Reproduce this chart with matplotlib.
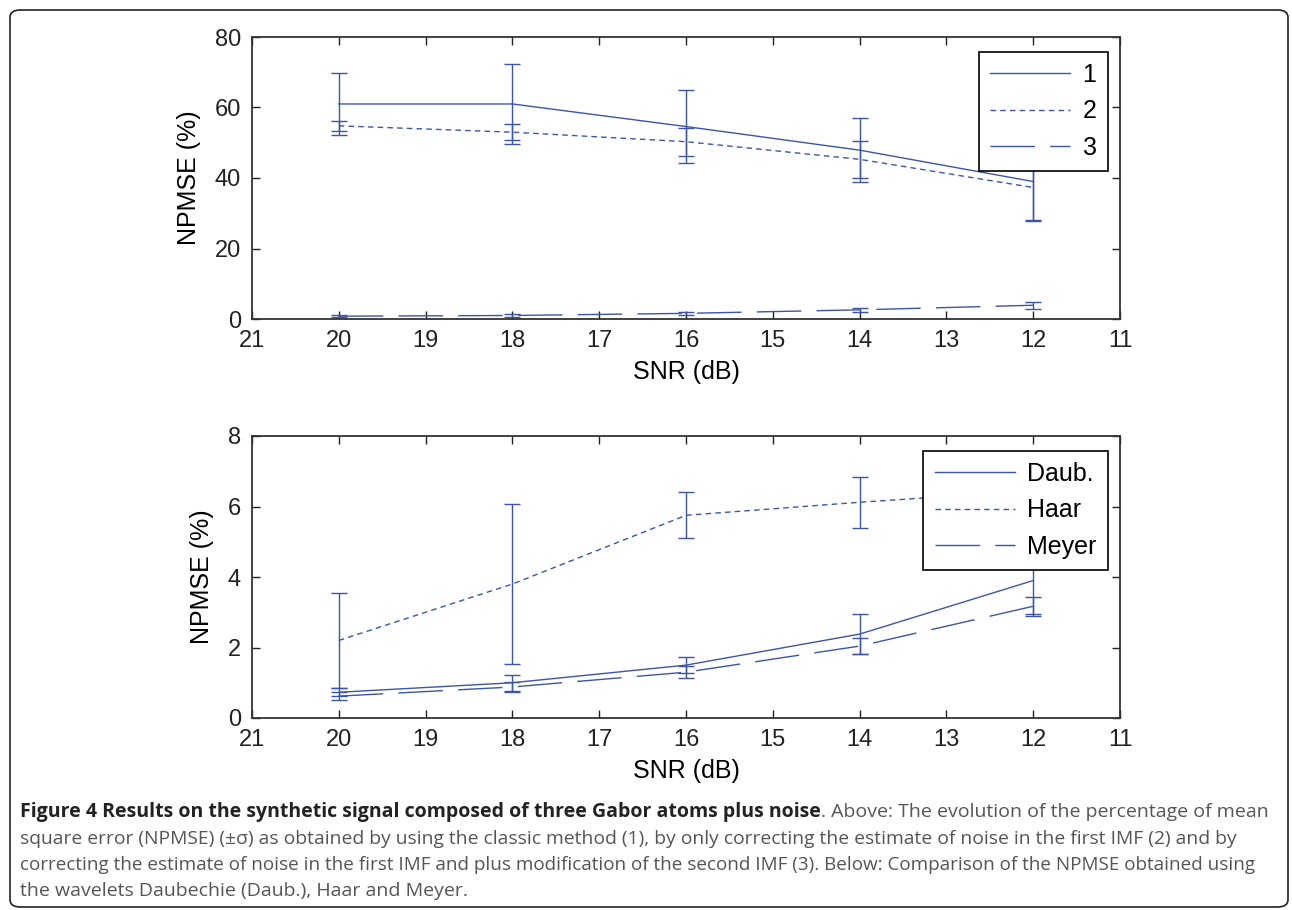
import numpy as np
import matplotlib
matplotlib.use("Agg")
import matplotlib.pyplot as plt
from matplotlib.patches import FancyBboxPatch

# SNR values (dB) where the methods were evaluated
snr = [20, 18, 16, 14, 12]

# top panel: NPMSE mean and sigma for methods 1, 2, 3
m1_mean = [61.0, 61.0, 54.6, 47.9, 39.0]
m1_std = [8.8, 11.4, 10.4, 9.1, 11.2]
m2_mean = [54.8, 53.0, 50.3, 45.3, 37.3]
m2_std = [1.5, 2.3, 4.0, 5.3, 9.3]
m3_mean = [0.8, 1.0, 1.6, 2.6, 3.9]
m3_std = [0.3, 0.4, 0.5, 0.5, 1.0]
top_labels = ["1", "2", "3"]

# bottom panel: wavelets
daub_mean = [0.73, 1.0, 1.5, 2.38, 3.9]
daub_std = [0.12, 0.22, 0.23, 0.56, 0.95]
haar_mean = [2.2, 3.8, 5.75, 6.12, 6.45]
haar_std = [1.35, 2.28, 0.65, 0.72, 0.6]
meyer_mean = [0.62, 0.88, 1.3, 2.04, 3.17]
meyer_std = [0.12, 0.15, 0.17, 0.22, 0.27]
bottom_labels = ["Daub.", "Haar", "Meyer"]

xticks = list(range(21, 10, -1))
top_yticks = [0, 20, 40, 60, 80]
bottom_yticks = [0, 2, 4, 6, 8]

caption_bold = "Figure 4 Results on the synthetic signal composed of three Gabor atoms plus noise"
caption_lines = [
    ". Above: The evolution of the percentage of mean",
    "square error (NPMSE) (\u00b1\u03c3) as obtained by using the classic method (1), by only correcting the estimate of noise in the first IMF (2) and by",
    "correcting the estimate of noise in the first IMF and plus modification of the second IMF (3). Below: Comparison of the NPMSE obtained using",
    "the wavelets Daubechie (Daub.), Haar and Meyer.",
]

BLUE = "#3c55a8"
STYLES = [dict(linestyle="-"),
          dict(linestyle=(0, (4, 3))),
          dict(linestyle=(0, (32, 11)))]

plt.rcParams["font.family"] = ["Liberation Sans", "DejaVu Sans"]

W, H = 1292, 910
fig = plt.figure(figsize=(W / 100, H / 100), dpi=100)


def px_axes(left, top, right, bottom):
    return fig.add_axes([left / W, 1 - bottom / H, (right - left) / W, (bottom - top) / H])


def panel(ax, series, labels, yticks, ymax, legend_box):
    for (mean, std), lab, st in zip(series, labels, STYLES):
        ax.plot(snr, mean, color=BLUE, lw=1.0, label=lab, **st)
        ax.errorbar(snr, mean, yerr=std, fmt="none", ecolor=BLUE, elinewidth=1.0,
                    capsize=5.5, capthick=1.0)
    ax.set_xlim(21, 11)
    ax.set_ylim(0, ymax)
    ax.set_xticks(xticks)
    ax.set_yticks(yticks)
    ax.tick_params(direction="in", length=6, width=1, top=True, right=True,
                   labelsize=17, colors="#222222", pad=8)
    for sp in ax.spines.values():
        sp.set_linewidth(1.3)
        sp.set_color("#333333")
    ax.set_xlabel("SNR (dB)", fontsize=18, labelpad=6)
    ax.set_ylabel("NPMSE (%)", fontsize=18, labelpad=10)
    leg = ax.legend(loc="upper right", bbox_to_anchor=legend_box, borderaxespad=0,
                    fontsize=18, handlelength=3.2, labelspacing=0.5, handletextpad=0.5,
                    fancybox=False, edgecolor="black", framealpha=1, borderpad=0.45)
    leg.get_frame().set_linewidth(1.2)


ax1 = px_axes(252, 37, 1120, 319)
panel(ax1, [(m1_mean, m1_std), (m2_mean, m2_std), (m3_mean, m3_std)],
      top_labels, top_yticks, 80, (0.986, 0.948))

ax2 = px_axes(252, 436, 1120, 718)
panel(ax2, [(daub_mean, daub_std), (haar_mean, haar_std), (meyer_mean, meyer_std)],
      bottom_labels, bottom_yticks, 8, (0.986, 0.948))

# rounded frame around the whole figure
frame = FancyBboxPatch((10 / W, 1 - 907 / H), 1278 / W, 897 / H,
                       boxstyle="round,pad=0,rounding_size=0.008",
                       transform=fig.transFigure, fill=False, edgecolor="#222222",
                       lw=1.2)
fig.patches.append(frame)

# caption
cap_font = ["Open Sans", "DejaVu Sans"]
cap_size = 14
left = 20
y0 = 1 - 817 / H
renderer = fig.canvas.get_renderer()


def fit(t, x0, right):
    # shrink a line so it ends where the reference line ends
    w = t.get_window_extent(renderer).width
    if x0 + w > right:
        t.set_fontsize(t.get_fontsize() * (right - x0) / w)


tb = fig.text(left / W, y0, caption_bold, fontsize=cap_size, fontweight="bold",
              family=cap_font, color="#222222", va="baseline")
bb = tb.get_window_extent(renderer)
fig.text(bb.x1 / W, y0, caption_lines[0], fontsize=cap_size, family=cap_font,
         color="#555555", va="baseline")
ends = [1242, 1258, None]
for i, (line, end) in enumerate(zip(caption_lines[1:], ends), start=1):
    t = fig.text(left / W, y0 - i * 26.5 / H, line, fontsize=cap_size, family=cap_font,
                 color="#555555", va="baseline")
    if end is not None:
        fit(t, left, end)

fig.savefig("out.png", dpi=100)
